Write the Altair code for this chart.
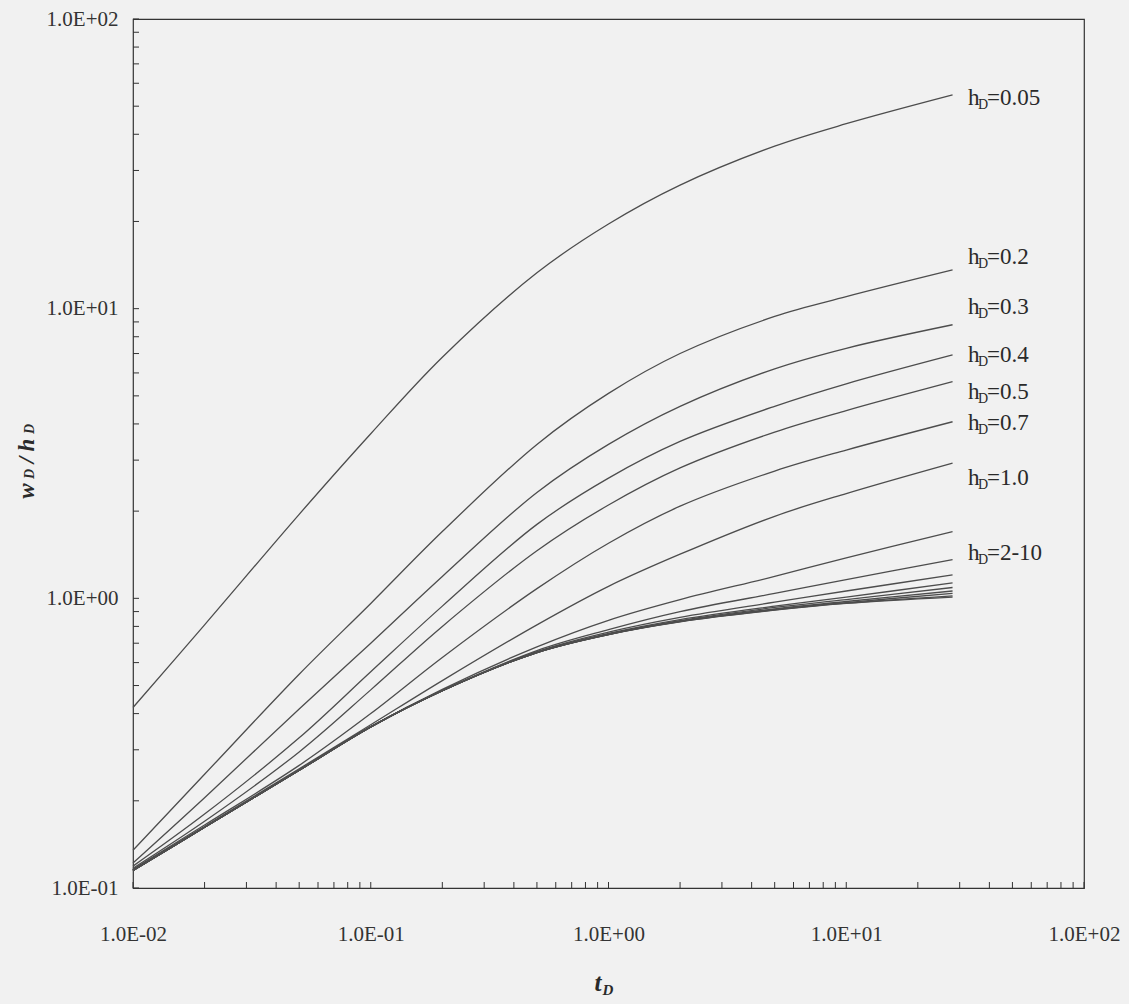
import altair as alt
import pandas as pd

# ---- data ----
t_D = [0.01, 0.02, 0.05, 0.1, 0.2, 0.5, 1, 2, 5, 10, 28]

h_values = ["0.05", "0.2", "0.3", "0.4", "0.5", "0.7", "1.0",
            "2", "3", "4", "5", "6", "7", "8", "9", "10"]

w_h_005 = [0.42, 0.81, 1.95, 3.7, 6.8, 13.3, 19.6, 26.7, 36.4, 43.5, 54.7]
w_h_02 = [0.135, 0.247, 0.547, 0.96, 1.7, 3.4, 5.1, 7.0, 9.4, 11.0, 13.6]
w_h_03 = [0.122, 0.205, 0.415, 0.70, 1.19, 2.32, 3.4, 4.6, 6.2, 7.3, 8.8]
w_h_04 = [0.119, 0.18, 0.33, 0.558, 0.94, 1.8, 2.6, 3.48, 4.6, 5.5, 6.92]
w_h_05 = [0.117, 0.17, 0.295, 0.483, 0.8, 1.46, 2.1, 2.82, 3.75, 4.45, 5.6]
w_h_07 = [0.116, 0.165, 0.265, 0.40, 0.625, 1.08, 1.55, 2.08, 2.75, 3.25, 4.07]
w_h_10 = [0.115, 0.163, 0.258, 0.366, 0.52, 0.81, 1.1, 1.42, 1.92, 2.3, 2.93]
w_h_2 = [0.115, 0.162, 0.255, 0.36, 0.485, 0.68, 0.84, 0.99, 1.19, 1.38, 1.70]
w_h_3 = [0.115, 0.162, 0.255, 0.36, 0.48, 0.66, 0.78, 0.9, 1.04, 1.16, 1.36]
w_h_4 = [0.115, 0.162, 0.255, 0.36, 0.48, 0.655, 0.765, 0.86, 0.97, 1.06, 1.205]
w_h_5 = [0.115, 0.162, 0.255, 0.36, 0.48, 0.652, 0.757, 0.845, 0.94, 1.01, 1.13]
w_h_6 = [0.115, 0.162, 0.255, 0.36, 0.48, 0.65, 0.753, 0.838, 0.93, 0.99, 1.09]
w_h_7 = [0.115, 0.162, 0.255, 0.36, 0.48, 0.65, 0.751, 0.834, 0.92, 0.975, 1.06]
w_h_8 = [0.115, 0.162, 0.255, 0.36, 0.48, 0.65, 0.75, 0.832, 0.915, 0.967, 1.04]
w_h_9 = [0.115, 0.162, 0.255, 0.36, 0.48, 0.65, 0.75, 0.831, 0.912, 0.962, 1.02]
w_h_100 = [0.115, 0.162, 0.255, 0.36, 0.48, 0.65, 0.75, 0.83, 0.91, 0.96, 1.01]

series = [w_h_005, w_h_02, w_h_03, w_h_04, w_h_05, w_h_07, w_h_10,
          w_h_2, w_h_3, w_h_4, w_h_5, w_h_6, w_h_7, w_h_8, w_h_9, w_h_100]

label_texts = ["=0.05", "=0.2", "=0.3", "=0.4", "=0.5", "=0.7", "=1.0", "=2-10"]
label_at = [53.4, 15.1, 10.14, 6.92, 5.16, 4.03, 2.60, 1.435]

x_major = [0.01, 0.1, 1, 10, 100]
x_major_labels = ["1.0E-02", "1.0E-01", "1.0E+00", "1.0E+01", "1.0E+02"]
y_major = [0.1, 1, 10, 100]
y_major_labels = ["1.0E-01", "1.0E+00", "1.0E+01", "1.0E+02"]

# ---- build tables ----
rows = []
for h, ys in zip(h_values, series):
    for t, w in zip(t_D, ys):
        rows.append({"t": t, "w": w, "h": h})
df = pd.DataFrame(rows)

minor_x = [k * 10.0 ** e for e in range(-2, 2) for k in range(1, 10)] + [100.0]
minor_y = [k * 10.0 ** e for e in range(-1, 2) for k in range(1, 10)] + [100.0]
tx = pd.DataFrame({"t": minor_x})
ty = pd.DataFrame({"w": minor_y})
labels_df = pd.DataFrame({"t": [32.5] * len(label_at), "w": label_at, "txt": label_texts})
one = pd.DataFrame({"a": [0]})


def label_expr(vals, labs):
    expr = "''"
    for v, l in reversed(list(zip(vals, labs))):
        expr = f"(abs(datum.value - {v}) < {v} * 0.01) ? '{l}' : (" + expr + ")"
    return expr


FONT = "Liberation Serif"
INK = "#333333"
W, H = 951, 869

xscale = alt.Scale(type="log", domain=[0.01, 100], nice=False)
yscale = alt.Scale(type="log", domain=[0.1, 100], nice=False)

xaxis = alt.Axis(values=x_major, labelExpr=label_expr(x_major, x_major_labels),
                 ticks=False, domain=False, grid=False, title=None,
                 labelFont=FONT, labelFontSize=21, labelColor=INK,
                 labelPadding=35, labelFlush=False, labelOverlap=False)
yaxis = alt.Axis(values=y_major, labelExpr=label_expr(y_major, y_major_labels),
                 ticks=False, domain=False, grid=False, title=None,
                 labelFont=FONT, labelFontSize=21, labelColor=INK,
                 labelPadding=15, labelFlush=False, labelOverlap=False)

X = alt.X("t:Q", scale=xscale, axis=xaxis)
Y = alt.Y("w:Q", scale=yscale, axis=yaxis)

lines = alt.Chart(df).mark_line(color="#4d4d4d", strokeWidth=1.3,
                                interpolate="catmull-rom").encode(
    x=X, y=Y, detail="h:N",
)

xticks = alt.Chart(tx).mark_rule(color=INK, strokeWidth=1).encode(
    x=X, y=alt.value(H), y2=alt.value(H - 6),
)
yticks = alt.Chart(ty).mark_rule(color=INK, strokeWidth=1).encode(
    y=Y, x=alt.value(0), x2=alt.value(6),
)

lab_h = alt.Chart(labels_df).mark_text(font=FONT, fontSize=23, align="left", baseline="middle",
                                        color="#2a2a2a").encode(
    x=X, y=Y, text=alt.value("h"))
lab_d = alt.Chart(labels_df).mark_text(font=FONT, fontSize=14, align="left", baseline="middle",
                                        color="#2a2a2a", dx=10, dy=7).encode(
    x=X, y=Y, text=alt.value("D"))
lab_v = alt.Chart(labels_df).mark_text(font=FONT, fontSize=23, align="left", baseline="middle",
                                        color="#2a2a2a", dx=19).encode(
    x=X, y=Y, text="txt:N")

# axis titles (t_D and w_D/h_D with subscripts)
xt1 = alt.Chart(one).mark_text(font=FONT, fontSize=25, fontStyle="italic", fontWeight="bold",
                               color="#2a2a2a", align="center", baseline="middle").encode(
    x=alt.value(465), y=alt.value(964), text=alt.value("t"))
xt2 = alt.Chart(one).mark_text(font=FONT, fontSize=15, fontStyle="italic", fontWeight="bold",
                               color="#2a2a2a", align="center", baseline="middle").encode(
    x=alt.value(475), y=alt.value(971), text=alt.value("D"))

yt_parts = []
for txt, yy, xx, fs in [("w", 472, -106, 23), ("D", 455, -103, 14), ("/", 441, -106, 23),
                        ("h", 426, -106, 23), ("D", 410, -103, 14)]:
    yt_parts.append(alt.Chart(one).mark_text(font=FONT, fontSize=fs, fontStyle="italic",
                                             fontWeight="bold", color="#2a2a2a", angle=270,
                                             align="center", baseline="middle").encode(
        x=alt.value(xx), y=alt.value(yy), text=alt.value(txt)))

chart = alt.layer(lines, xticks, yticks, lab_h, lab_d, lab_v, xt1, xt2, *yt_parts).properties(
    width=W, height=H,
    autosize=alt.AutoSizeParams(type="none"),
    padding={"left": 133, "top": 19, "right": 45, "bottom": 116},
    background="#f1f1f1",
).configure_view(stroke="#333333", strokeWidth=1.2)

chart.save("out.html", embed_options={"renderer": "svg", "actions": False})
